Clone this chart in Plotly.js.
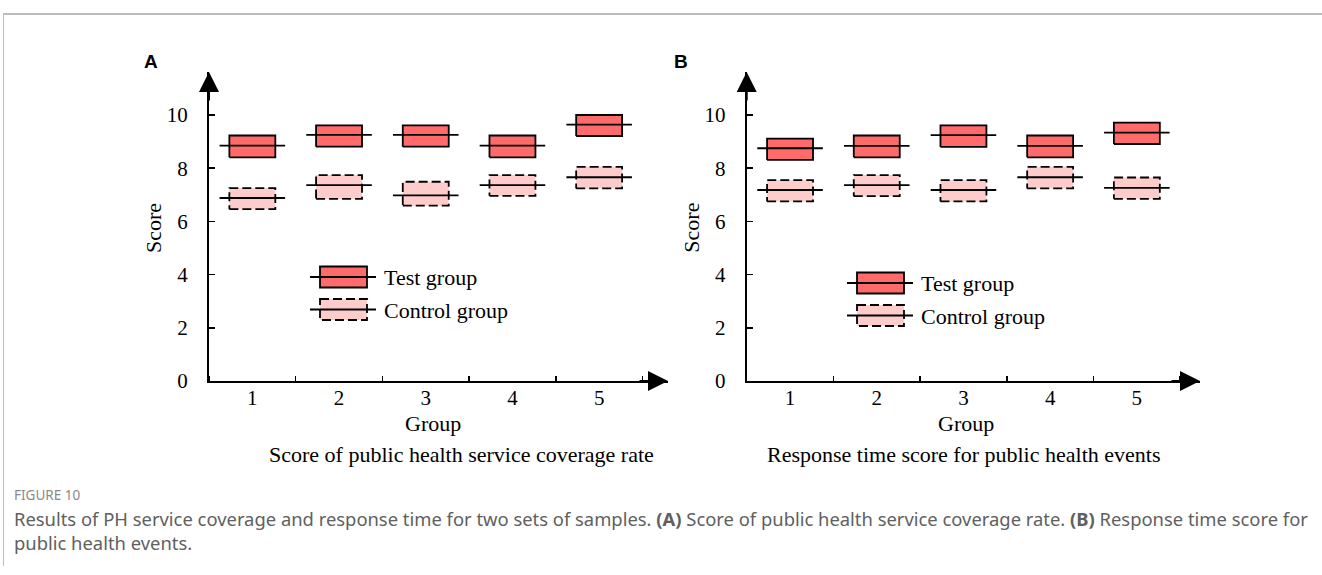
<!DOCTYPE html>
<html>
<head>
<meta charset="utf-8">
<script src="https://cdn.plot.ly/plotly-3.0.1.min.js"></script>
<style>
html,body{margin:0;padding:0;background:#fff;}
#chart{width:1322px;height:575px;}
</style>
</head>
<body>
<div id="chart"></div>
<script>
// ---------------- data ----------------
const groups = [1, 2, 3, 4, 5];
const groupLabels = ["1", "2", "3", "4", "5"];
const yTicks = [0, 2, 4, 6, 8, 10];

// Panel A: Score of public health service coverage rate
const A_test_q1  = [8.41, 8.81, 8.81, 8.41, 9.21];
const A_test_med = [8.85, 9.25, 9.25, 8.85, 9.64];
const A_test_q3  = [9.23, 9.61, 9.61, 9.23, 10.00];
const A_ctrl_q1  = [6.46, 6.85, 6.59, 6.96, 7.24];
const A_ctrl_med = [6.88, 7.36, 6.98, 7.36, 7.66];
const A_ctrl_q3  = [7.25, 7.74, 7.49, 7.74, 8.05];

// Panel B: Response time score for public health events
const B_test_q1  = [8.31, 8.41, 8.80, 8.41, 8.91];
const B_test_med = [8.75, 8.84, 9.24, 8.84, 9.34];
const B_test_q3  = [9.11, 9.23, 9.61, 9.23, 9.71];
const B_ctrl_q1  = [6.75, 6.95, 6.75, 7.24, 6.85];
const B_ctrl_med = [7.18, 7.36, 7.18, 7.66, 7.26];
const B_ctrl_q3  = [7.55, 7.74, 7.55, 8.05, 7.65];

const seriesNames = ["Test group", "Control group"];
const panelLetters = ["A", "B"];
const subtitles = ["Score of public health service coverage rate", "Response time score for public health events"];
const xTitle = "Group";
const yTitle = "Score";
const captionHead = "FIGURE 10";
const captionLine1 = "Results of PH service coverage and response time for two sets of samples. <b>(A)</b> Score of public health service coverage rate. <b>(B)</b> Response time score for";
const captionLine2 = "public health events.";

// ---------------- style ----------------
const W = 1322, H = 575;
const px = x => x / W;
const py = y => 1 - y / H;
const SERIF = "Liberation Serif, Times New Roman, serif";
const SANS = "Noto Sans, Open Sans, sans-serif";
const TEST_FILL = "#FF6B6B";
const CTRL_FILL = "#FFCCCC";
const BOX_HALF = 0.265;
const MED_HALF = 0.378;
const FS = 22;

function boxTrace(q1, q3, fill, dash, xa, ya, name) {
  const xs = [], ys = [];
  groups.forEach((g, i) => {
    xs.push(g - BOX_HALF, g + BOX_HALF, g + BOX_HALF, g - BOX_HALF, g - BOX_HALF, null);
    ys.push(q1[i], q1[i], q3[i], q3[i], q1[i], null);
  });
  return {type: "scatter", mode: "lines", x: xs, y: ys, fill: "toself", fillcolor: fill,
    line: {color: "#000", width: 1.8, dash: dash}, xaxis: xa, yaxis: ya, name: name,
    showlegend: false, hoverinfo: "skip"};
}
function medTrace(med, xa, ya, name) {
  const xs = [], ys = [];
  groups.forEach((g, i) => {
    xs.push(g - MED_HALF, g + MED_HALF, null);
    ys.push(med[i], med[i], null);
  });
  return {type: "scatter", mode: "lines", x: xs, y: ys, line: {color: "#000", width: 1.8},
    xaxis: xa, yaxis: ya, name: name, showlegend: false, hoverinfo: "skip"};
}

const data = [
  boxTrace(A_test_q1, A_test_q3, TEST_FILL, "solid", "x", "y", seriesNames[0]),
  medTrace(A_test_med, "x", "y", seriesNames[0]),
  boxTrace(A_ctrl_q1, A_ctrl_q3, CTRL_FILL, "9px,4px", "x", "y", seriesNames[1]),
  medTrace(A_ctrl_med, "x", "y", seriesNames[1]),
  boxTrace(B_test_q1, B_test_q3, TEST_FILL, "solid", "x2", "y2", seriesNames[0]),
  medTrace(B_test_med, "x2", "y2", seriesNames[0]),
  boxTrace(B_ctrl_q1, B_ctrl_q3, CTRL_FILL, "9px,4px", "x2", "y2", seriesNames[1]),
  medTrace(B_ctrl_med, "x2", "y2", seriesNames[1])
];

// panel geometry (pixels)
const panels = [
  {x0: 209, x1: 668, xEnd: 0.5 + (668 - 209) / 86.7},
  {x0: 746.7, x1: 1200, xEnd: 0.5 + (1200 - 746.7) / 86.7}
];
const yTop = 72, yBot = 381;
const yMax = (yBot - yTop) / 26.6;

function xaxisDef(p, anchor) {
  return {
    domain: [px(p.x0), px(p.x1)], range: [0.5, p.xEnd], anchor: anchor,
    tickmode: "array", tickvals: groups, ticktext: groupLabels, ticks: "",
    ticklabelstandoff: -3,
    minor: {tick0: 0.5, dtick: 1, ticks: "inside", ticklen: 5, tickwidth: 1.5, tickcolor: "#000"},
    showline: true, linecolor: "#000", linewidth: 2, showgrid: false, zeroline: false,
    tickfont: {family: SERIF, size: 21, color: "#000"}, fixedrange: true
  };
}
function yaxisDef(anchor) {
  return {
    domain: [py(yBot), py(yTop)], range: [0, yMax], anchor: anchor,
    tickmode: "array", tickvals: yTicks, ticktext: yTicks.map(String),
    ticks: "inside", ticklen: 6, tickwidth: 1.5, tickcolor: "#000",
    ticklabelstandoff: 15,
    showline: true, linecolor: "#000", linewidth: 2, showgrid: false, zeroline: false,
    tickfont: {family: SERIF, size: 21, color: "#000"}, fixedrange: true
  };
}

const annotations = [];
const shapes = [];

// frame
shapes.push({type: "line", xref: "paper", yref: "paper", x0: px(3), x1: px(1322), y0: py(14), y1: py(14), line: {color: "#BDBDBD", width: 2}});
shapes.push({type: "line", xref: "paper", yref: "paper", x0: px(3.5), x1: px(3.5), y0: py(14), y1: py(566), line: {color: "#BDBDBD", width: 1}});

const offsets = [0, 537.7];
const groupPos = [433, 966];
const subPos = [461, 963];
const legendPos = [{x: 310, y: 277}, {x: 847, y: 283}];

[0, 1].forEach(k => {
  const p = panels[k], o = offsets[k];
  // arrows
  annotations.push({xref: "paper", yref: "paper", x: px(p.x0), y: py(yTop), ax: 0, ay: 30, text: "",
    showarrow: true, arrowhead: 2, arrowsize: 2, arrowwidth: 2, arrowcolor: "#000"});
  annotations.push({xref: "paper", yref: "paper", x: px(p.x1), y: py(yBot), ax: -30, ay: 0, text: "",
    showarrow: true, arrowhead: 2, arrowsize: 2, arrowwidth: 2, arrowcolor: "#000"});
  // panel letter
  annotations.push({xref: "paper", yref: "paper", x: px(151 + o * 0.985), y: py(61), text: "<b>" + panelLetters[k] + "</b>",
    showarrow: false, font: {family: "Liberation Sans, Arial, sans-serif", size: 19, color: "#000"}, xanchor: "center", yanchor: "middle"});
  // y title
  annotations.push({xref: "paper", yref: "paper", x: px(153 + o), y: py(228), text: yTitle, textangle: -90,
    showarrow: false, font: {family: SERIF, size: FS, color: "#000"}, xanchor: "center", yanchor: "middle"});
  // x title
  annotations.push({xref: "paper", yref: "paper", x: px(groupPos[k]), y: py(423), text: xTitle,
    showarrow: false, font: {family: SERIF, size: FS, color: "#000"}, xanchor: "center", yanchor: "middle"});
  // subtitle
  annotations.push({xref: "paper", yref: "paper", x: px(subPos[k]), y: py(454), text: subtitles[k],
    showarrow: false, font: {family: SERIF, size: FS, color: "#000"}, xanchor: "center", yanchor: "middle"});
  // legend
  const L = legendPos[k];
  [0, 1].forEach(s => {
    const cy = L.y + s * 32.5;
    shapes.push({type: "rect", xref: "paper", yref: "paper", x0: px(L.x + 10), x1: px(L.x + 57), y0: py(cy - 10.5), y1: py(cy + 10.5),
      fillcolor: s === 0 ? TEST_FILL : CTRL_FILL, line: {color: "#000", width: 1.8, dash: s === 0 ? "solid" : "9px,4px"}});
    shapes.push({type: "line", xref: "paper", yref: "paper", x0: px(L.x), x1: px(L.x + 66), y0: py(cy), y1: py(cy),
      line: {color: "#000", width: 1.8}});
    annotations.push({xref: "paper", yref: "paper", x: px(L.x + 72), y: py(cy + 1), text: seriesNames[s],
      showarrow: false, font: {family: SERIF, size: FS, color: "#000"}, xanchor: "left", yanchor: "middle"});
  });
});

// caption
annotations.push({xref: "paper", yref: "paper", x: px(12), y: py(495), text: captionHead, showarrow: false,
  font: {family: SANS, size: 13.5, color: "#8a8a8a"}, xanchor: "left", yanchor: "middle"});
annotations.push({xref: "paper", yref: "paper", x: px(12), y: py(518), text: captionLine1, showarrow: false,
  font: {family: SANS, size: 18.4, color: "#606060"}, xanchor: "left", yanchor: "middle"});
annotations.push({xref: "paper", yref: "paper", x: px(12), y: py(542), text: captionLine2, showarrow: false,
  font: {family: SANS, size: 18.4, color: "#606060"}, xanchor: "left", yanchor: "middle"});

const layout = {
  width: W, height: H, margin: {l: 0, r: 0, t: 0, b: 0},
  paper_bgcolor: "#fff", plot_bgcolor: "rgba(0,0,0,0)", showlegend: false,
  xaxis: xaxisDef(panels[0], "y"),
  yaxis: yaxisDef("x"),
  xaxis2: xaxisDef(panels[1], "y2"),
  yaxis2: yaxisDef("x2"),
  annotations: annotations, shapes: shapes
};

Plotly.newPlot("chart", data, layout, {displayModeBar: false, staticPlot: true});
</script>
</body>
</html>
